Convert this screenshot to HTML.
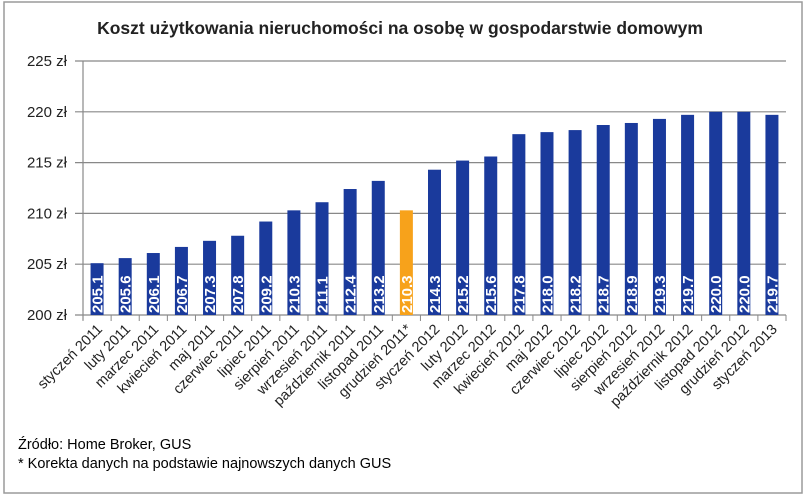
<!DOCTYPE html>
<html><head><meta charset="utf-8"><style>
body{margin:0;background:#fff;}
svg{display:block;font-family:"Liberation Sans",sans-serif;}
</style></head><body>
<svg id="chart" width="805" height="498">
<rect x="4" y="2" width="798" height="491" fill="#fff" stroke="#9a9a9a" stroke-width="1.5"/>
<text x="400" y="34" text-anchor="middle" font-size="17.5" font-weight="bold" fill="#222">Koszt użytkowania nieruchomości na osobę w gospodarstwie domowym</text>
<g id="grid"></g><g id="bars"></g><g id="xlabels"></g>
<text x="18" y="449" font-size="14.5" fill="#000">Źródło: Home Broker, GUS</text>
<text x="18" y="468" font-size="14.5" fill="#000">* Korekta danych na podstawie najnowszych danych GUS</text>
</svg>
<script>
const categories=["styczeń 2011","luty 2011","marzec 2011","kwiecień 2011","maj 2011","czerwiec 2011","lipiec 2011","sierpień 2011","wrzesień 2011","październik 2011","listopad 2011","grudzień 2011*","styczeń 2012","luty 2012","marzec 2012","kwiecień 2012","maj 2012","czerwiec 2012","lipiec 2012","sierpień 2012","wrzesień 2012","październik 2012","listopad 2012","grudzień 2012","styczeń 2013"];
const values=[205.1,205.6,206.1,206.7,207.3,207.8,209.2,210.3,211.1,212.4,213.2,210.3,214.3,215.2,215.6,217.8,218.0,218.2,218.7,218.9,219.3,219.7,220.0,220.0,219.7];
const highlighted=[11];
const yTicks=[200,205,210,215,220,225];
const NS="http://www.w3.org/2000/svg";
const X0=83,X1=786,Y0=315,Y1=61,ymin=200,ymax=225;
const step=(X1-X0)/categories.length;
const y=v=>Y0-(v-ymin)/(ymax-ymin)*(Y0-Y1);
const x=i=>X0+step*(i+0.5);
function mk(t,a,p){const e=document.createElementNS(NS,t);for(const k in a)e.setAttribute(k,a[k]);p.appendChild(e);return e;}
const grid=document.getElementById('grid');
yTicks.forEach(t=>{
 const l=mk('line',{x1:X0-8,x2:X1,y1:y(t),y2:y(t),stroke:'#888','stroke-width':1.2},grid);
 
 
 const tx=mk('text',{x:X0-16,y:y(t)+5,'text-anchor':'end','font-size':15,fill:'#222'},grid);
 tx.textContent=t+' zł';
 
 
});
const ax=mk('line',{x1:X0,x2:X0,y1:Y1,y2:Y0+5,stroke:'#888','stroke-width':1.2},grid);


for(let i=0;i<=categories.length;i++){
 const tk=mk('line',{x1:X0+step*i,x2:X0+step*i,y1:Y0,y2:Y0+6,stroke:'#888'},grid);
 
 
}
const bars=document.getElementById('bars'),xl=document.getElementById('xlabels');
const bw=13;
values.forEach((v,i)=>{
 const hi=highlighted.includes(i);
 const r=mk('rect',{x:x(i)-bw/2,y:y(v),width:bw,height:Y0-y(v),fill:hi?'#f7a21b':'#1a3a9c'},bars);
 
 
 const t=mk('text',{x:0,y:0,transform:`translate(${x(i)+5.5},${Y0-2}) rotate(-90)`,'font-size':15,'font-weight':'bold',fill:'#fff'},bars);
 t.textContent=v.toFixed(1);
 
 
 const c=mk('text',{x:0,y:0,transform:`translate(${x(i)+6},${Y0+15}) rotate(-45)`,'text-anchor':'end','font-size':14.5,fill:'#222'},xl);
 c.textContent=categories[i];
 
 
});
</script>
</body></html>
